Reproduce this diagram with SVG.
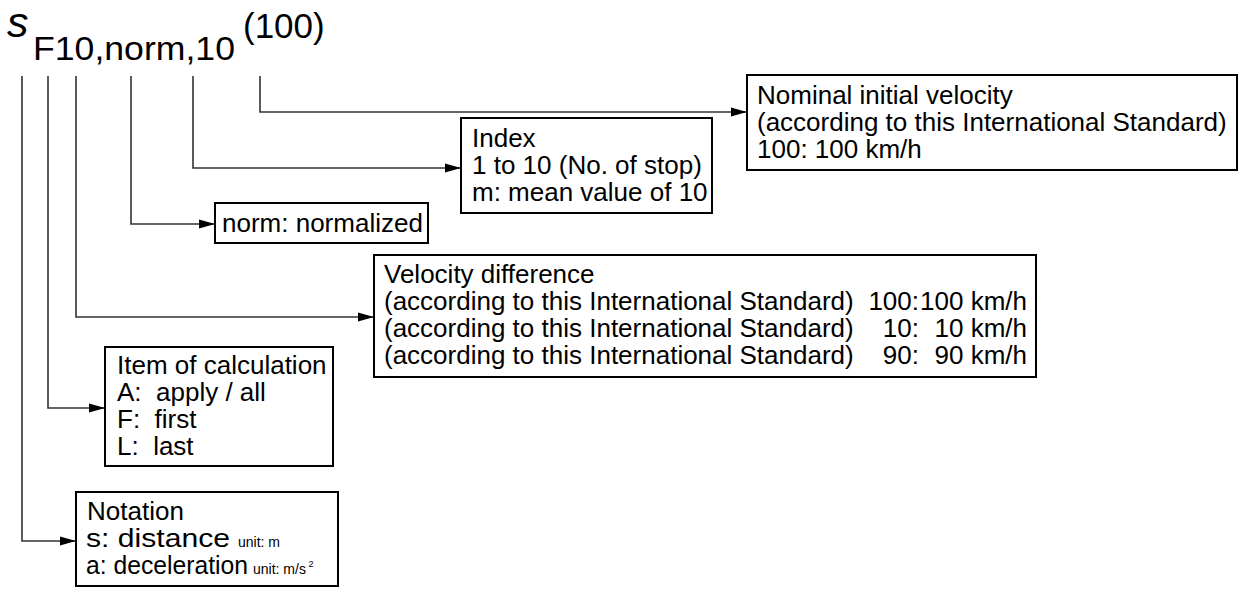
<svg xmlns="http://www.w3.org/2000/svg" width="1240" height="590" viewBox="0 0 1240 590">
<style>
text{font-family:"Liberation Sans",Arial,sans-serif;fill:#000;white-space:pre}
.t{font-size:26px}
.s{font-size:14px}
.box{fill:#fff;stroke:#000;stroke-width:2}
.c{fill:none;stroke:#333;stroke-width:1.6}
</style>
<defs>
<marker id="ah" markerUnits="userSpaceOnUse" markerWidth="17" markerHeight="10" refX="16" refY="5" orient="auto">
<path d="M0,0.5 L16,5 L0,9.5 z" fill="#000"/>
</marker>
</defs>
<rect width="1240" height="590" fill="#fff"/>
<g id="symbol">
<text x="7" y="37" font-size="43" font-style="italic">s</text>
<text x="33" y="60" font-size="34" textLength="202" lengthAdjust="spacingAndGlyphs">F10,norm,10</text>
<text x="243" y="38" font-size="35">(100)</text>
</g>
<g id="connectors">
<path class="c" d="M260,76 V112 H747" marker-end="url(#ah)"/>
<path class="c" d="M193,76 V168 H461" marker-end="url(#ah)"/>
<path class="c" d="M131,76 V224 H215" marker-end="url(#ah)"/>
<path class="c" d="M76,76 V317 H374" marker-end="url(#ah)"/>
<path class="c" d="M48,76 V408 H105" marker-end="url(#ah)"/>
<path class="c" d="M22,76 V541 H76" marker-end="url(#ah)"/>
</g>
<g id="nominal">
<rect class="box" x="747" y="75" width="490" height="95"/>
<text class="t" x="757" y="104">Nominal initial velocity</text>
<text class="t" x="757" y="131">(according to this International Standard)</text>
<text class="t" x="757" y="158">100: 100 km/h</text>
</g>
<g id="index">
<rect class="box" x="461" y="118" width="251" height="95"/>
<text class="t" x="472" y="147">Index</text>
<text class="t" x="472" y="174">1 to 10 (No. of stop)</text>
<text class="t" x="472" y="201">m: mean value of 10</text>
</g>
<g id="norm">
<rect class="box" x="215" y="203" width="213" height="40"/>
<text class="t" x="222" y="232">norm: normalized</text>
</g>
<g id="velocity">
<rect class="box" x="374" y="255" width="662" height="122"/>
<text class="t" x="384" y="283">Velocity difference</text>
<text class="t" x="384" y="310">(according to this International Standard)</text>
<text class="t" x="384" y="337">(according to this International Standard)</text>
<text class="t" x="384" y="364">(according to this International Standard)</text>
<text class="t" x="919" y="310" text-anchor="end">100:</text>
<text class="t" x="919" y="337" text-anchor="end">10:</text>
<text class="t" x="919" y="364" text-anchor="end">90:</text>
<text class="t" x="1027" y="310" text-anchor="end">100 km/h</text>
<text class="t" x="1027" y="337" text-anchor="end">10 km/h</text>
<text class="t" x="1027" y="364" text-anchor="end">90 km/h</text>
</g>
<g id="item">
<rect class="box" x="105" y="347" width="228" height="119"/>
<text class="t" x="117" y="374">Item of calculation</text>
<text class="t" x="117" y="401">A:  apply / all</text>
<text class="t" x="117" y="428">F:  first</text>
<text class="t" x="117" y="455">L:  last</text>
</g>
<g id="notation">
<rect class="box" x="76" y="492" width="262" height="94"/>
<text class="t" x="87" y="520">Notation</text>
<text class="t" x="86" y="547" textLength="144" lengthAdjust="spacingAndGlyphs">s: distance</text>
<text class="s" x="238" y="547">unit: m</text>
<text class="t" x="86" y="574" textLength="162" lengthAdjust="spacingAndGlyphs">a: deceleration</text>
<text class="s" x="253" y="574">unit: m/s<tspan font-size="9" dy="-7"> 2</tspan></text>
</g>
</svg>
